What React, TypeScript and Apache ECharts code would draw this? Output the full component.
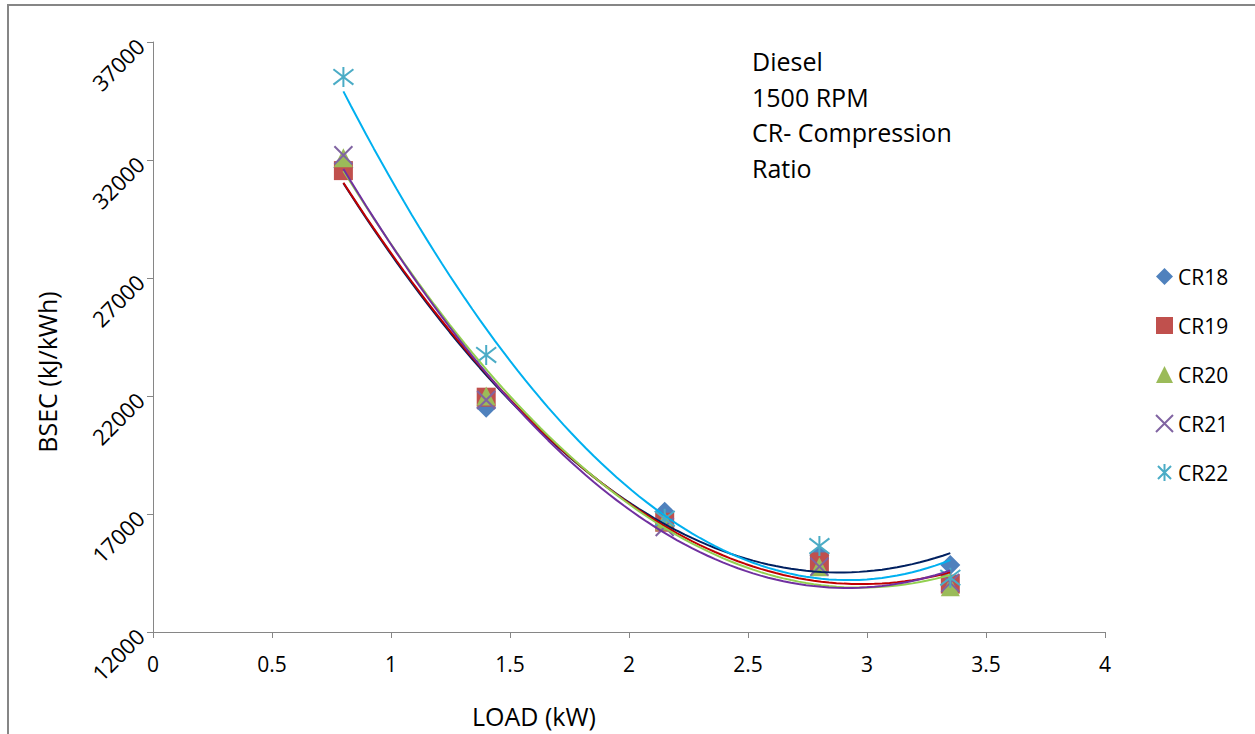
import React, { useEffect, useRef } from "react";
import * as echarts from "echarts";

const LOAD = [0.8, 1.4, 2.15, 2.8, 3.35];
const CR18 = [31680, 21500, 17100, 15250, 14840];
const CR19 = [31550, 21950, 16650, 14970, 14030];
const CR20 = [32100, 22000, 16700, 14770, 13920];
const CR21 = [32200, 21830, 16450, 14770, 14080];
const CR22 = [35520, 23740, 16800, 15640, 14300];
const NAMES = ["CR18", "CR19", "CR20", "CR21", "CR22"];
const NOTE_LINES = ["Diesel", "1500 RPM", "CR- Compression", "Ratio"];

const MARKER_COLORS = ["#4F81BD", "#C0504D", "#9BBB59", "#8064A2", "#4BACC6"];
const TREND_COLORS = ["#002060", "#C00000", "#92D050", "#7030A0", "#00B0F0"];
const FONT = "'Open Sans'";

function quadFit(xs: number[], ys: number[]) {
  let s0 = 0, s1 = 0, s2 = 0, s3 = 0, s4 = 0, t0 = 0, t1 = 0, t2 = 0;
  for (let i = 0; i < xs.length; i++) {
    const x = xs[i], y = ys[i];
    s0 += 1; s1 += x; s2 += x * x; s3 += x * x * x; s4 += x * x * x * x;
    t0 += y; t1 += x * y; t2 += x * x * y;
  }
  const det = (m: number[][]) =>
    m[0][0] * (m[1][1] * m[2][2] - m[1][2] * m[2][1]) -
    m[0][1] * (m[1][0] * m[2][2] - m[1][2] * m[2][0]) +
    m[0][2] * (m[1][0] * m[2][1] - m[1][1] * m[2][0]);
  const M = [[s0, s1, s2], [s1, s2, s3], [s2, s3, s4]];
  const T = [t0, t1, t2];
  const D = det(M);
  const coef = [0, 1, 2].map((c) => {
    const mm = M.map((row, r) => row.map((v, k) => (k === c ? T[r] : v)));
    return det(mm) / D;
  });
  return (x: number) => coef[0] + coef[1] * x + coef[2] * x * x;
}

const X_PATH = "path://M0,0L10,10M10,0L0,10";
const STAR_PATH = "path://M0,0L10,10M10,0L0,10M5,-1.5L5,11.5";

export default function App() {
  const ref = useRef<HTMLDivElement>(null);
  useEffect(() => {
    if (!ref.current) return;
    const chart = echarts.init(ref.current, null, { renderer: "svg" });
    const datasets = [CR18, CR19, CR20, CR21, CR22];
    const symbols = ["diamond", "rect", "triangle", X_PATH, STAR_PATH];
    const sizes = [20, 19, 19, 18, 20];
    const scatter = datasets.map((d, i) => {
      const isPath = i >= 3;
      return {
        name: NAMES[i],
        type: "scatter",
        symbol: symbols[i],
        symbolSize: sizes[i],
        z: 2,
        itemStyle: isPath
          ? { color: "rgba(0,0,0,0)", borderColor: MARKER_COLORS[i], borderWidth: 2, opacity: 1 }
          : { color: MARKER_COLORS[i], opacity: 1 },
        data: LOAD.map((x, j) => [x, d[j]]),
      };
    });
    const xmin = Math.min(...LOAD), xmax = Math.max(...LOAD);
    const trends = datasets.map((d, i) => {
      const f = quadFit(LOAD, d);
      const pts: number[][] = [];
      const n = 80;
      for (let k = 0; k <= n; k++) {
        const x = xmin + ((xmax - xmin) * k) / n;
        pts.push([x, f(x)]);
      }
      return {
        name: NAMES[i] + " trend",
        type: "line",
        showSymbol: false,
        symbol: "none",
        z: 3,
        lineStyle: { color: TREND_COLORS[i], width: 2 },
        data: pts,
        silent: true,
      };
    });
    chart.setOption({
      animation: false,
      backgroundColor: "#fff",
      grid: { left: 153, right: 150, top: 42, bottom: 102 },
      xAxis: {
        type: "value",
        min: 0,
        max: 4,
        interval: 0.5,
        axisLine: { show: true, lineStyle: { color: "#868686", width: 1 } },
        axisTick: { show: true, length: 6, lineStyle: { color: "#868686" } },
        splitLine: { show: false },
        axisLabel: { color: "#000", fontSize: 21, fontFamily: FONT, margin: 21 },
      },
      yAxis: {
        type: "value",
        min: 12000,
        max: 37000,
        interval: 5000,
        axisLine: { show: true, lineStyle: { color: "#868686", width: 1 } },
        axisTick: { show: true, length: 6, lineStyle: { color: "#868686" } },
        splitLine: { show: false },
        axisLabel: {
          color: "#000",
          fontSize: 22,
          fontFamily: FONT,
          rotate: 45,
          margin: 13,
          formatter: (v: number) => String(v),
        },
      },
      legend: {
        data: NAMES,
        orient: "vertical",
        left: 1150,
        top: 261,
        itemWidth: 17,
        itemHeight: 17,
        itemGap: 28,
        textStyle: { color: "#000", fontSize: 21, fontFamily: FONT, lineHeight: 20 },
      },
      graphic: [
        { type: "line", shape: { x1: 8, y1: 5, x2: 8, y2: 734 }, style: { stroke: "#868686", lineWidth: 2 } },
        { type: "line", shape: { x1: 7, y1: 5, x2: 1255, y2: 5 }, style: { stroke: "#868686", lineWidth: 2 } },
        ...NOTE_LINES.map((t, i) => ({
          type: "text",
          x: 752,
          y: 61 + i * 35.7,
          style: { text: t, fill: "#000", font: `25px ${FONT}`, verticalAlign: "middle" },
        })),
        {
          type: "text",
          x: 47,
          y: 372,
          rotation: Math.PI / 2,
          style: { text: "BSEC (kJ/kWh)", fill: "#000", font: `25px ${FONT}`, align: "center", verticalAlign: "middle" },
        },
        {
          type: "text",
          x: 534,
          y: 716,
          style: { text: "LOAD (kW)", fill: "#000", font: `25px ${FONT}`, align: "center", verticalAlign: "middle" },
        },
      ],
      series: [...scatter, ...trends],
    });
    return () => chart.dispose();
  }, []);
  return <div ref={ref} style={{ position: "fixed", left: 0, top: 0, width: 1255, height: 734 }} />;
}
